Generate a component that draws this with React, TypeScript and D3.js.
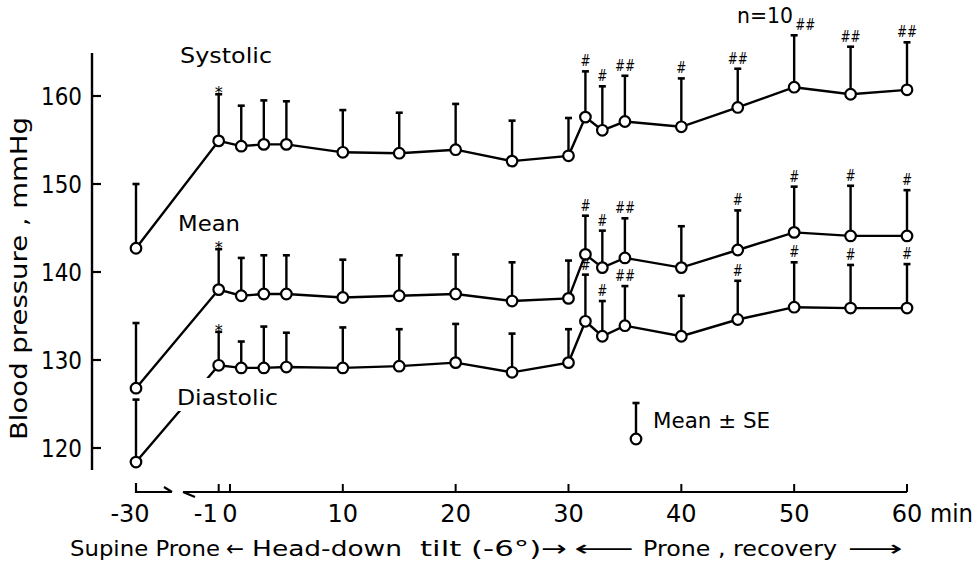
import React from "react";
import * as d3 from "d3";

const times = [-30, -1, 1, 3, 5, 10, 15, 20, 25, 30, 31.5, 33, 35, 40, 45, 50, 55, 60];

const systolic = [142.7, 154.9, 154.3, 154.5, 154.5, 153.6, 153.5, 153.9, 152.6, 153.2, 157.6, 156.1, 157.1, 156.5, 158.7, 161.0, 160.2, 160.7];
const systolicSE = [7.3, 5.3, 4.6, 5.0, 4.9, 4.8, 4.6, 5.2, 4.6, 4.3, 5.2, 5.0, 5.2, 5.5, 4.4, 5.9, 5.4, 5.4];
const systolicMarks = ["", "*", "", "", "", "", "", "", "", "", "#", "#", "##", "#", "##", "##", "##", "##"];

const meanBP = [126.8, 138.0, 137.3, 137.5, 137.5, 137.1, 137.3, 137.5, 136.7, 137.0, 142.0, 140.5, 141.6, 140.5, 142.5, 144.5, 144.1, 144.1];
const meanSE = [7.4, 4.6, 4.3, 4.4, 4.4, 4.3, 4.6, 4.5, 4.4, 4.3, 4.4, 4.2, 4.5, 4.7, 4.5, 5.2, 5.7, 5.2];
const meanMarks = ["", "*", "", "", "", "", "", "", "", "", "#", "#", "##", "", "#", "#", "#", "#"];

const diastolic = [118.4, 129.4, 129.1, 129.1, 129.2, 129.1, 129.3, 129.7, 128.6, 129.7, 134.4, 132.7, 133.9, 132.7, 134.6, 136.0, 135.9, 135.9];
const diastolicSE = [7.1, 3.8, 3.0, 4.7, 3.9, 4.6, 4.2, 4.4, 4.4, 3.8, 5.3, 4.0, 4.5, 4.6, 4.4, 5.1, 4.9, 5.0];
const diastolicMarks = ["", "*", "", "", "", "", "", "", "", "", "#", "#", "##", "", "#", "#", "#", "#"];

const yTicks = [120, 130, 140, 150, 160];
const xTicks = [-1, 0, 10, 20, 30, 40, 50, 60];
const xTickLabels = ["-30", "-1", "0", "10", "20", "30", "40", "50", "60"];

const FONT = "'DejaVu Sans', sans-serif";

export default function App() {
  const W = 980, H = 567;
  // broken axis: -30 sits on its own segment left of the main axis
  const x = d3.scaleLinear().domain([-30, -2, 60]).range([136, 207.4, 907]);
  const y = d3.scaleLinear().domain([120, 160]).range([448, 96]);

  const series = [
    { name: "Systolic", v: systolic, se: systolicSE, marks: systolicMarks },
    { name: "Mean", v: meanBP, se: meanSE, marks: meanMarks },
    { name: "Diastolic", v: diastolic, se: diastolicSE, marks: diastolicMarks },
  ];

  const line = d3.line<number>().x((_, i) => x(times[i])).y((d) => y(d));
  const axisY = 492;
  const yAxisX = 92;
  const SG = "spacingAndGlyphs";

  return (
    <svg width={W} height={H} style={{ position: "absolute", left: 0, top: 0, background: "#fff" }} fontFamily={FONT}>
      <rect x={0} y={0} width={W} height={H} fill="#fff" />
      {/* Y axis */}
      <line x1={yAxisX} x2={yAxisX} y1={53} y2={470} stroke="#000" strokeWidth={2.4} />
      {yTicks.map((t) => (
        <g key={t}>
          <line x1={yAxisX} x2={yAxisX + 9} y1={y(t)} y2={y(t)} stroke="#000" strokeWidth={2.2} />
          <text x={82} y={y(t) + 9} textAnchor="end" fontSize={24} textLength={41} lengthAdjust={SG}>{t}</text>
        </g>
      ))}
      <text transform={`translate(27,${(117 + 440) / 2}) rotate(-90)`} textAnchor="middle" fontSize={23} textLength={323} lengthAdjust={SG}>Blood pressure , mmHg</text>

      {/* X axis: pre segment */}
      <path d={`M${x(-30)},${axisY - 9} L${x(-30)},${axisY} L172,${axisY} M164,${axisY - 5} L172,${axisY}`} fill="none" stroke="#000" strokeWidth={2.2} />
      {/* main axis */}
      <path d={`M183,${axisY} L${x(60)},${axisY} M183,${axisY} L195,${axisY + 5}`} fill="none" stroke="#000" strokeWidth={2.2} />
      {xTicks.map((t) => (
        <line key={t} x1={x(t)} x2={x(t)} y1={axisY} y2={axisY - 8} stroke="#000" strokeWidth={2} />
      ))}
      <g fontSize={24}>
        <text x={x(-30) - 6} y={522} textAnchor="middle">{xTickLabels[0]}</text>
        <text x={x(-1) - 1} y={522} textAnchor="end">{xTickLabels[1]}</text>
        <text x={x(0)} y={522} textAnchor="middle">{xTickLabels[2]}</text>
        {[10, 20, 30, 40, 50, 60].map((t, i) => (
          <text key={t} x={x(t)} y={522} textAnchor="middle">{xTickLabels[i + 3]}</text>
        ))}
        <text x={930} y={522} textLength={43} lengthAdjust={SG}>min</text>
      </g>

      {/* bottom phase labels */}
      <g fontSize={22}>
        <text x={70} y={556} textLength={150} lengthAdjust={SG}>Supine Prone</text>
        <text x={226} y={556} textLength={18} lengthAdjust={SG}>←</text>
        <text x={252} y={556} textLength={150} lengthAdjust={SG}>Head-down</text>
        <text x={420} y={556} textLength={147} lengthAdjust={SG}>tilt (-6°)→</text>
        <text x={574} y={556} textLength={60} lengthAdjust={SG}>⟵</text>
        <text x={643} y={556} textLength={194} lengthAdjust={SG}>Prone , recovery</text>
        <text x={848} y={556} textLength={55} lengthAdjust={SG}>⟶</text>
      </g>

      {/* lines */}
      {series.map((s) => (
        <path key={s.name} d={line(s.v) || ""} fill="none" stroke="#000" strokeWidth={2.4} />
      ))}

      {/* series labels */}
      <text x={180} y={63} fontSize={22} textLength={92} lengthAdjust={SG}>Systolic</text>
      <text x={178} y={231} fontSize={22} textLength={62} lengthAdjust={SG}>Mean</text>
      <rect x={172} y={378} width={110} height={33} fill="#fff" />
      <text x={177} y={405} fontSize={22} textLength={101} lengthAdjust={SG}>Diastolic</text>

      {/* error bars */}
      {series.map((s) => (
        <g key={s.name + "-eb"}>
          {s.v.map((v, i) => {
            const cx = x(times[i]);
            const top = y(v + s.se[i]);
            return (
              <g key={i}>
                <line x1={cx} x2={cx} y1={y(v)} y2={top} stroke="#000" strokeWidth={2.4} />
                <line x1={cx - 3.5} x2={cx + 3.5} y1={top} y2={top} stroke="#000" strokeWidth={2.6} />
              </g>
            );
          })}
        </g>
      ))}

      {/* points */}
      {series.map((s) => (
        <g key={s.name + "-pt"}>
          {s.v.map((v, i) => (
            <circle key={i} cx={x(times[i])} cy={y(v)} r={5.3} fill="#fff" stroke="#000" strokeWidth={2.2} />
          ))}
        </g>
      ))}

      {/* significance marks */}
      {series.map((s, si) => (
        <g key={s.name + "-mk"}>
          {s.marks.map((m, i) => {
            if (!m) return null;
            const top = y(s.v[i] + s.se[i]);
            const cx = x(times[i]) + (si === 0 && times[i] === 50 ? 11 : 0);
            if (m === "*") {
              return <text key={i} x={cx} y={top + 4} textAnchor="middle" fontSize={16}>*</text>;
            }
            return (
              <text key={i} x={cx} y={top - 5} textAnchor="middle" fontSize={16} fontStyle="italic" textLength={m.length * 10} lengthAdjust={SG}>{m}</text>
            );
          })}
        </g>
      ))}

      <text x={737} y={23} fontSize={22} textLength={56} lengthAdjust={SG}>n=10</text>

      {/* legend */}
      <line x1={636} x2={636} y1={403} y2={439} stroke="#000" strokeWidth={2.4} />
      <line x1={632.5} x2={639.5} y1={403} y2={403} stroke="#000" strokeWidth={2.6} />
      <circle cx={636} cy={439} r={5.3} fill="#fff" stroke="#000" strokeWidth={2.2} />
      <text x={653} y={428} fontSize={22} textLength={117} lengthAdjust={SG}>Mean ± SE</text>
    </svg>
  );
}
